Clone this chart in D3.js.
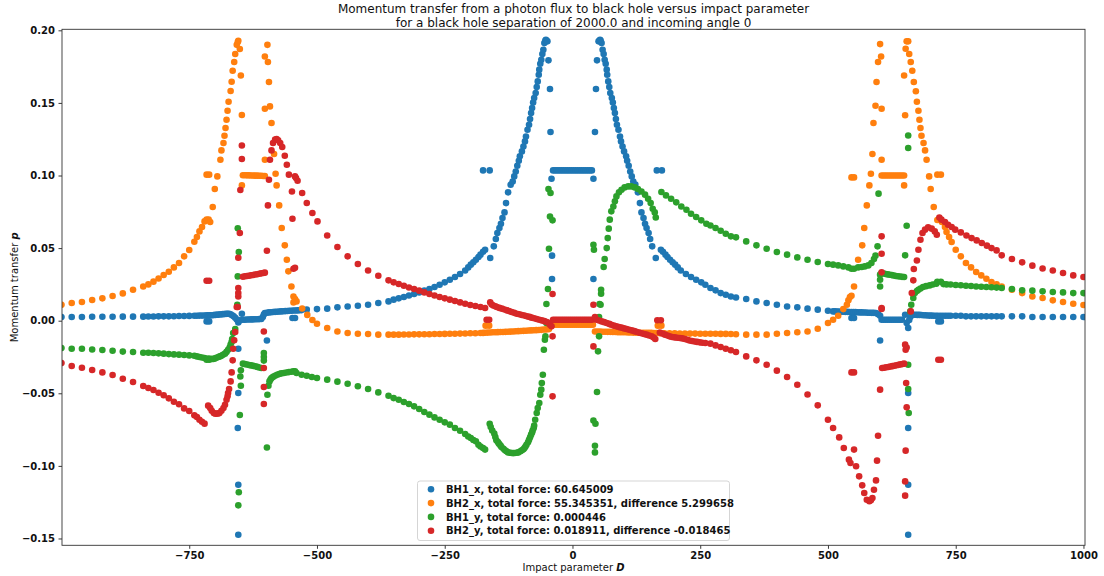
<!DOCTYPE html>
<html>
<head>
<meta charset="utf-8">
<script src="https://cdn.jsdelivr.net/npm/d3@7"></script>
<style>
  body { margin: 0; background: #fff; }
  svg { display: block; font-family: "DejaVu Sans", sans-serif; }
</style>
</head>
<body>
<svg id="chart" width="1104" height="576"></svg>
<script>
// Title, axis ticks and legend text
const titleLines = [
  "Momentum transfer from a photon flux to black hole versus impact parameter",
  "for a black hole separation of 2000.0 and incoming angle 0"
];
const xTicks = [-750, -500, -250, 0, 250, 500, 750, 1000];
const yTicks = [-0.15, -0.10, -0.05, 0.00, 0.05, 0.10, 0.15, 0.20];
const seriesLabels = [
  "BH1_x, total force: 60.645009",
  "BH2_x, total force: 55.345351, difference 5.299658",
  "BH1_y, total force: 0.000446",
  "BH2_y, total force: 0.018911, difference -0.018465"
];
const seriesColors = ["#1f77b4", "#ff7f0e", "#2ca02c", "#d62728"];

// Momentum transfer samples: [impact parameter D, momentum transfer p]
const bh1x = [
  [-1000,.0025],[-980,.0025],[-960,.0025],[-940,.0027],[-920,.0027],[-900,.0027],[-880,.0028],[-860,.0028],[-840,.0028],
  [-830,.0029],[-820,.0029],[-810,.003],[-800,.003],[-790,.003],[-780,.0031],[-770,.0032],[-760,.0032],[-750,.0033],[-740,.0034],
  [-735,.0034],[-730,.0035],[-725,.0035],[-720,.0036],[-717,.0036],[-714,.0037],[-716,-.0005],[-711,-.0005],[-711,.0037],
  [-708,.0038],[-705,.0038],[-702,.0039],[-699,.004],[-696,.0041],[-693,.0042],[-690,.0043],[-687,.0044],[-684,.0045],
  [-681,.0046],[-678,.0047],[-675,.0048],[-672,.0047],[-669,.0044],[-666,.0038],[-663,.003],[-660,.002],[-657,.0008],
  [-654,-.0012],[-651,.0002],[-654,-.0193],[-654,-.0498],[-655,-.0739],[-654,-.113],[-654,-.1474],[-647,.0048],
  [-645,.0007],[-641,.0007],[-637,.0008],[-633,.0008],[-629,.0009],[-625,.0009],[-621,.001],[-617,.001],[-613,.0011],[-609,.0012],
  [-606,.0025],[-604,.0043],[-602,.0053],[-598,-.0136],[-598,.0055],[-594,.0057],[-590,.0058],[-586,.006],[-582,.0061],[-578,.0062],
  [-574,.0063],[-570,.0064],[-566,.0065],[-562,.0066],[-558,.0067],[-554,.0068],[-550,.0069],[-546,.007],[-542,.007],
  [-538,.0071],[-534,.0072],[-530,.0073],[-548,.0019],[-543,.0019],
  [-520,.0076],[-500,.008],[-480,.0083],[-460,.0092],[-440,.0098],[-420,.0103],[-400,.011],[-380,.0122],[-360,.0133],
  [-350,.0145],[-340,.0154],[-330,.0163],[-320,.0174],[-310,.0184],[-300,.0195],[-290,.0207],[-280,.0218],[-270,.0232],
  [-260,.0248],[-250,.0264],[-240,.0282],[-230,.0301],[-220,.0322],[-210,.0346],[-204,.0367],[-199,.0386],[-194,.0402],
  [-189,.042],[-184,.0439],[-180,.0455],[-175,.0475],[-171,.0489],[-175,.1035],[-162,.1035],[-161,.0432],
  [-154,.0512],[-150,.0563],[-147,.0604],[-143,.0638],[-140,.0668],[-137,.0707],[-133,.0746],[-130,.081],[-126,.0884],
  [-121,.0937],[-117,.0959],[-114,.0994],[-111,.1028],[-108,.1067],[-105,.1102],[-103,.1132],[-99,.1166],[-96,.12],
  [-93,.1235],[-91,.1269],[-88,.1315],[-85,.135],[-83,.1389],[-81,.143],[-79,.1465],[-77,.1503],[-75,.1534],[-72,.1568],
  [-70,.161],[-68,.1648],[-66,.1694],[-65,.1729],[-63,.177],[-61,.1797],[-59,.1837],[-57,.1866],[-55,.1912],[-53,.193],
  [-52,.1935],[-51,.193],[-49,.1924],
  [-47,.1793],[-44,.1596],[-43,.13],[-41,.0978],[-40,.0448],[-40,.0287],
  [-38,.1035],[-34,.1035],[-30,.1035],[-26,.1035],[-22,.1035],[-18,.1035],[-14,.1035],[-10,.1035],[-6,.1035],[-2,.1035],
  [2,.1035],[6,.1035],[10,.1035],[14,.1035],[18,.1035],[22,.1035],[26,.1035],[30,.1035],[34,.1035],[38,.1035],
  [41,.0287],[41,.0978],[44,.13],[46,.1596],[48,.1793],
  [51,.1924],[53,.193],[54,.1935],[55,.193],[57,.1912],[59,.1866],[61,.1837],[63,.1797],[65,.177],[67,.1729],[68,.1694],
  [70,.1648],[72,.161],[74,.1568],[77,.1534],[79,.1503],[81,.1465],[83,.143],[85,.1389],[87,.135],[90,.1315],[93,.1269],
  [95,.1235],[98,.12],[101,.1166],[105,.1132],[107,.1102],[110,.1067],[113,.1028],[116,.0994],[119,.0959],[123,.0937],
  [128,.0884],[132,.081],[135,.0746],[139,.0707],[142,.0668],[145,.0638],[149,.0604],[152,.0563],[156,.0512],[163,.0432],
  [165,.1035],[175,.1035],[173,.0489],[177,.0475],[182,.0455],[186,.0439],[191,.042],[196,.0402],[201,.0386],[206,.0367],
  [212,.0346],[222,.0322],[232,.0301],[242,.0282],[252,.0264],[260,.0248],[270,.0225],[280,.0209],[290,.019],[300,.0179],
  [310,.0167],[320,.016],[340,.0149],[360,.0133],[380,.0122],[400,.011],[420,.0098],[440,.0092],[460,.0083],[480,.0076],
  [500,.0069],[510,.0064],[546,.0019],[551,.0019],
  [514,.0064],[518,.0063],[522,.0063],[526,.0062],[530,.0062],[534,.0061],[538,.0061],[542,.006],[546,.006],[550,.0059],
  [554,.0059],[558,.0058],[562,.0057],[566,.0057],[570,.0056],[574,.0056],[578,.0055],[582,.0055],[586,.0054],[590,.0054],
  [594,.0053],[598,.0045],[602,.0034],[602,-.0136],[605,.0007],
  [609,.0007],[613,.0007],[617,.0007],[621,.0007],[625,.0007],[629,.0007],[633,.0007],[637,.0007],[641,.0007],[645,.0007],
  [651,.0041],[654,-.0016],[657,-.005],[657,-.0498],[657,-.0739],[657,-.113],[657,-.1474],
  [659,.0005],[661,.0025],[664,.0038],[667,.0041],[671,.0041],[675,.004],[679,.004],[683,.0039],[687,.0038],[691,.0037],
  [695,.0036],[699,.0035],[703,.0035],[707,.0034],[711,.0034],[716,-.0005],[721,-.0005],[715,.0034],[720,.0034],
  [725,.0034],[730,.0034],[735,.0034],[740,.0034],[750,.0034],[760,.0034],[770,.003],[780,.003],[790,.003],[800,.003],
  [810,.003],[820,.003],[830,.003],[840,.003],[860,.003],[880,.003],[900,.0025],[920,.0025],[940,.0025],[960,.0025],
  [980,.0025],[1000,.0025]
];

const bh2x = [
  [-1000,.011],[-980,.0122],[-960,.0129],[-940,.0143],[-920,.0154],[-900,.017],[-880,.0188],[-860,.0213],[-840,.0236],
  [-830,.025],[-820,.0269],[-810,.0291],[-800,.0315],[-790,.0337],[-780,.0367],[-770,.0397],[-760,.0443],[-750,.0487],[-740,.0544],
  [-735,.0576],[-730,.0615],[-725,.0645],[-720,.0684],[-716,.0696],[-712,.0696],[-709,.068],[-716,.1006],[-711,.1006],
  [-704,.0783],[-700,.0907],[-695,.0994],[-689,.1109],[-687,.1173],[-683,.1224],[-681,.1274],[-679,.1327],[-677,.1384],
  [-675,.1446],[-673,.1508],[-669,.1582],[-667,.1646],[-665,.1722],[-662,.1782],[-660,.1837],[-657,.19],[-655,.1919],
  [-654,.1928],[-651,.1871],[-649,.1689],[-647,.1417],[-647,.0932],
  [-645,.1002],[-641,.1002],[-637,.1001],[-633,.1001],[-629,.1],[-625,.1],[-621,.0999],[-617,.0999],[-613,.0998],
  [-609,.0998],[-605,.0997],[-602,.0997],
  [-602,.1109],[-602,.182],[-602,.146],[-597,.19],[-596,.1782],[-594,.1644],[-592,.1476],[-589,.1362],[-584,.1148],
  [-581,.1012],[-579,.0932],[-574,.0794],[-569,.0638],[-563,.0519],[-559,.042],[-556,.034],[-550,.0236],[-546,.0167],
  [-543,.0149],[-546,.0126],[-540,.0133],[-529,.0084],[-519,.004],[-509,.0005],[-500,-.0021],[-480,-.005],[-460,-.0074],
  [-440,-.0085],[-420,-.009],[-400,-.0092],[-380,-.0096],[-360,-.0096],[-350,-.0096],[-340,-.0096],[-330,-.0095],
  [-320,-.0095],[-310,-.0094],[-300,-.0094],[-290,-.0093],[-280,-.0093],[-270,-.0092],[-260,-.0092],[-250,-.0091],
  [-240,-.009],[-230,-.009],[-220,-.0089],[-210,-.0088],[-200,-.0087],[-190,-.0086],[-180,-.0085],[-175,-.0084],
  [-170,-.0034],[-163,-.0034],
  [-171,-.0083],[-166,-.0082],[-161,-.0081],[-156,-.008],[-151,-.008],[-146,-.0079],[-141,-.0078],[-136,-.0078],
  [-131,-.0077],[-126,-.0076],[-121,-.0075],[-116,-.0074],[-111,-.0073],[-106,-.0072],[-101,-.0071],[-96,-.007],
  [-91,-.0069],[-86,-.0068],[-81,-.0067],[-76,-.0066],[-71,-.0065],[-66,-.0064],[-61,-.0063],[-56,-.0061],[-51,-.006],
  [-46,-.0058],
  [-40,-.0028],[-36,-.0028],[-32,-.0028],[-28,-.0028],[-24,-.0028],[-20,-.0028],[-16,-.0028],[-12,-.0028],[-8,-.0028],
  [-4,-.0028],[0,-.0028],[4,-.0028],[8,-.0028],[12,-.0028],[16,-.0028],[20,-.0028],[24,-.0028],[28,-.0028],[32,-.0028],
  [36,-.0028],[40,-.0028],
  [44,-.0074],[49,-.0075],[54,-.0075],[59,-.0076],[64,-.0076],[69,-.0077],[74,-.0077],[79,-.0078],[84,-.0078],
  [89,-.0079],[94,-.0079],[99,-.008],[104,-.008],[109,-.0081],[114,-.0081],[119,-.0082],[124,-.0082],[129,-.0083],
  [134,-.0083],[139,-.0083],[144,-.0084],[149,-.0084],[154,-.0084],[159,-.0085],[164,-.0085],
  [167,-.0034],[174,-.0034],
  [171,-.0086],[180,-.0086],[190,-.0087],[200,-.0087],[210,-.0088],[220,-.0088],[230,-.0089],[240,-.0089],[250,-.009],
  [260,-.009],[270,-.009],[280,-.009],[290,-.0091],[300,-.0091],[310,-.0092],[320,-.0093],[340,-.0096],[360,-.0096],
  [380,-.0096],[400,-.009],[420,-.0085],[440,-.008],[460,-.0074],[480,-.0055],[500,-.0016],[510,.0007],[520,.0034],
  [530,.008],[537,.011],[540,.014],[543,.0163],[546,.0172],[551,.0236],[546,.0987],[551,.0987],[559,.042],[567,.0519],
  [571,.0638],[576,.0794],[581,.0932],[584,.1012],[587,.1148],[589,.1362],[593,.148],[595,.1644],[598,.1782],[602,.1905],
  [604,.182],[605,.146],[605,.1109],
  [605,.1],[609,.1],[613,.1],[617,.1],[621,.1],[625,.1],[629,.1],[633,.1],[637,.1],[641,.1],[645,.1],[649,.1],
  [649,.0932],[651,.1415],[649,.1689],[652,.1873],[654,.1924],[657,.1924],[659,.1837],[662,.1782],[665,.1722],[668,.1644],
  [672,.158],[674,.1508],[677,.1446],[679,.1384],[681,.1327],[683,.1274],[687,.1224],[690,.1173],[693,.1109],[698,.0994],
  [701,.0907],[707,.0783],[714,.0694],[719,.0694],[714,.1006],[721,.1006],[723,.068],[729,.0645],[732,.0611],[737,.0576],
  [742,.0542],[750,.0489],[760,.0443],[770,.0397],[780,.0367],[790,.0335],[800,.0312],[810,.0289],[820,.0266],[830,.025],
  [840,.0236],[860,.0213],[880,.019],[900,.0167],[920,.0156],[940,.014],[960,.0129],[980,.0117],[1000,.0108]
];

const bh1y = [
  [-1000,-.0188],[-980,-.0193],[-960,-.0193],[-940,-.0198],[-920,-.0202],[-900,-.0207],[-880,-.0213],[-860,-.0216],[-840,-.0221],
  [-830,-.0221],[-820,-.0223],[-810,-.0225],[-800,-.0227],[-790,-.023],[-780,-.0232],[-770,-.0234],[-760,-.0236],[-750,-.0239],
  [-740,-.0241],[-735,-.0246],[-730,-.025],[-725,-.0253],[-720,-.0257],[-716,-.0269],[-711,-.0269],
  [-713,-.026],[-709,-.0263],[-706,-.0264],[-703,-.0263],[-700,-.026],[-697,-.0256],[-693,-.025],[-690,-.0246],[-687,-.0241],
  [-684,-.0235],[-680,-.0227],[-677,-.0215],[-674,-.02],[-671,-.0185],[-669,-.0165],[-667,-.0146],[-666,-.0126],
  [-664,-.0085],[-660,-.0057],
  [-656,.011],[-655,.0305],[-653,.0473],[-655,.0636],[-649,-.0342],[-650,-.0384],[-649,-.0448],[-651,-.065],
  [-653,-.1182],[-654,-.1272],
  [-645,-.0296],[-641,-.0299],[-637,-.0302],[-633,-.0305],[-629,-.0308],[-625,-.0311],[-621,-.0314],[-617,-.0318],
  [-613,-.0322],[-609,-.0326],[-604,-.0275],[-604,-.025],[-604,-.0223],
  [-595,-.0448],[-597,-.051],[-598,-.0873],
  [-593,-.0418],[-591,-.0405],[-589,-.0395],[-586,-.0387],[-582,-.0379],[-578,-.0372],[-574,-.0367],[-570,-.0363],
  [-565,-.036],[-560,-.0357],[-555,-.0354],[-550,-.0352],[-546,-.0349],[-543,-.0349],[-540,-.036],[-530,-.0372],
  [-520,-.0379],[-510,-.0388],[-500,-.0395],[-480,-.0406],[-460,-.042],[-440,-.0434],[-420,-.0452],[-400,-.047],
  [-380,-.0494],[-360,-.0517],[-350,-.0533],[-340,-.0544],[-330,-.056],[-320,-.0574],[-310,-.059],[-300,-.0608],
  [-290,-.0629],[-280,-.0647],[-270,-.0666],[-260,-.0682],[-250,-.07],[-240,-.0716],[-230,-.0739],[-220,-.0758],
  [-210,-.078],[-204,-.0798],[-199,-.0808],[-194,-.0822],[-189,-.0831],[-184,-.0854],[-180,-.0866],[-175,-.0877],
  [-171,-.0888],
  [-162,-.071],[-160,-.0732],[-157,-.0756],[-153,-.0778],[-151,-.0801],[-149,-.0824],[-146,-.0836],[-144,-.0847],
  [-141,-.0859],[-139,-.087],[-135,-.0882],[-132,-.0893],[-129,-.09],[-126,-.0907],[-122,-.091],[-119,-.0911],
  [-116,-.0912],[-113,-.0911],[-109,-.091],[-106,-.0907],[-102,-.09],[-99,-.0893],[-96,-.0885],[-94,-.0877],
  [-92,-.0866],[-90,-.0854],[-87,-.0838],[-85,-.082],[-83,-.0803],[-81,-.0785],[-79,-.077],[-78,-.0756],[-76,-.074],
  [-75,-.0723],[-73,-.0682],[-70,-.0636],[-68,-.0601],[-65,-.0567],[-63,-.051],[-61,-.0475],[-60,-.0429],[-58,-.0372],
  [-56,-.02],[-54,-.0131],[-53,-.0108],[-51,-.0016],
  [-51,.0115],[-48,.0218],[-46,.0496],[-44,.0718],[-47,.0907],[-43,.0879],[-39,.0691],
  [41,.0523],[42,.0489],[41,-.0687],[45,-.071],[44,-.0861],[44,-.0907],[48,-.0491],[50,-.0211],[52,-.0108],
  [52,.0025],[53,.0115],[55,.011],[56,.0186],[56,.0213],
  [61,.037],[63,.0425],[67,.05],[69,.0569],[71,.0634],[73,.0696],[76,.0753],[80,.0787],[83,.0822],[86,.0856],[91,.0884],
  [96,.0902],[102,.0918],[109,.0925],[115,.0925],[122,.0918],[128,.0907],[135,.089],[142,.0868],[148,.084],[153,.081],
  [157,.0771],[161,.0746],[163,.0711],
  [174,.0886],[183,.0863],[193,.084],[203,.0815],[213,.0787],[223,.0764],[232,.0737],[242,.0714],[252,.0691],[262,.0668],
  [270,.0656],[280,.0638],[290,.062],[300,.0599],[310,.0581],[320,.0574],[340,.0546],[360,.0519],[380,.0496],[400,.0473],
  [420,.0455],[440,.0436],[460,.042],[480,.0404],[500,.039],[510,.0386],[520,.0381],[530,.0374],[540,.0367],
  [546,.0358],[551,.0358],[559,.0367],[566,.037],[572,.0374],[579,.0381],[585,.0397],[590,.0425],[593,.0448],
  [597,.0512],[599,.0875],[602,.0317],[602,.0282],[602,.0236],
  [605,.0328],[609,.0325],[613,.0322],[617,.0319],[621,.0316],[625,.0314],[629,.0311],[633,.0308],[637,.0306],
  [641,.0304],[645,.0302],[649,.0301],
  [651,.045],[654,.0654],[657,.1189],[657,.1276],[657,-.0303],[657,-.047],[658,-.0636],
  [661,.0064],[663,.011],[667,.0156],[670,.019],[674,.0205],[677,.0213],[681,.0222],[686,.0232],[692,.0238],[699,.0243],
  [705,.0249],[712,.0255],[714,.0268],[721,.0268],[726,.0252],[732,.025],[740,.0249],[750,.0246],[760,.0244],[770,.0241],
  [780,.0239],[790,.0236],[800,.0234],[810,.0232],[820,.023],[830,.0228],[840,.0225],[860,.0218],[880,.0209],[900,.0207],
  [920,.0202],[940,.0198],[960,.0195],[980,.019],[1000,.019]
];

const bh2y = [
  [-1000,-.0291],[-980,-.0312],[-960,-.0324],[-940,-.034],[-920,-.0356],[-900,-.0374],[-880,-.04],[-860,-.0422],[-840,-.045],
  [-830,-.0464],[-820,-.0477],[-810,-.0496],[-800,-.0514],[-790,-.0535],[-780,-.0558],[-770,-.0576],[-760,-.0604],
  [-750,-.0622],[-740,-.0652],[-735,-.0663],[-730,-.0682],[-725,-.0696],[-720,-.0709],[-716,.0275],[-711,.0275],
  [-713,-.0585],[-709,-.0601],[-706,-.062],[-702,-.0636],[-699,-.0641],[-696,-.064],[-693,-.0639],[-691,-.0636],
  [-687,-.062],[-683,-.0601],[-680,-.0579],[-677,-.0544],[-675,-.0521],[-674,-.0498],[-672,-.047],[-669,-.0418],
  [-667,-.0356],[-665,-.0273],[-664,-.0193],[-662,-.0135],[-660,-.0078],[-657,.0094],
  [-655,.0094],[-654,.0167],[-654,.0191],[-654,.0225],[-654,.0434],[-651,.0604],[-650,.09],[-647,.1114],[-647,.1207],
  [-645,.0303],[-641,.0306],[-637,.0308],[-633,.031],[-629,.0313],[-625,.0315],[-621,.0318],[-617,.032],[-613,.0323],
  [-609,.0326],[-605,.0329],[-602,.0331],
  [-604,-.0074],[-604,-.0326],[-604,-.0457],[-604,-.0574],
  [-598,.0482],[-596,.0794],[-594,.0971],[-592,.1109],[-589,.1173],[-586,.1224],[-582,.1247],[-579,.1251],[-576,.1242],
  [-572,.1224],[-568,.1196],[-563,.1136],[-559,.1074],[-555,.1006],[-549,.089],[-548,.0702],[-546,.0358],[-543,.0365],
  [-543,.0994],[-541,.0983],[-538,.0964],[-529,.0879],[-520,.0811],[-509,.0742],[-499,.0684],[-480,.0587],[-460,.0508],
  [-440,.0443],[-420,.039],[-400,.0346],[-380,.031],[-360,.0278],[-350,.0264],[-340,.0253],[-330,.0241],[-320,.0229],
  [-310,.0218],[-300,.0207],[-290,.0195],[-280,.0184],[-270,.0174],[-260,.0163],[-250,.0154],[-240,.0145],[-230,.0136],
  [-220,.0126],[-210,.0117],[-200,.0108],[-190,.0101],[-180,.0094],[-171,.0087],[-168,.0007],[-163,.0007],
  [-161,.0126],[-158,.0112],[-155,.0105],[-151,.0099],[-148,.0094],[-143,.0088],[-138,.0083],[-133,.0077],[-128,.0071],
  [-124,.0066],[-119,.006],[-114,.0054],[-109,.0048],[-104,.0044],[-99,.0039],[-94,.0035],[-89,.003],[-84,.0026],
  [-80,.0021],[-75,.0017],[-70,.0012],[-65,.0007],[-60,.0002],[-55,-.0003],[-50,-.0009],[-46,-.0018],[-44,-.0028],
  [-41,-.0039],[-39,-.0108],[-39,.0184],[-39,-.0521],
  [-38,.0007],[-34,.0007],[-30,.0007],[-26,.0007],[-22,.0007],[-18,.0007],[-14,.0007],[-10,.0007],[-6,.0007],[-2,.0007],
  [2,.0007],[6,.0007],[10,.0007],[14,.0007],[18,.0007],[22,.0007],[26,.0007],[30,.0007],[34,.0007],[38,.0007],
  [41,.011],[41,-.0177],
  [44,.0025],[47,.0007],[52,.0001],[57,-.0005],[62,-.001],[67,-.0016],[72,-.0022],[76,-.0028],[81,-.0034],[86,-.0039],
  [91,-.0044],[96,-.0048],[101,-.0053],[106,-.0057],[111,-.0062],[116,-.0067],[121,-.0072],[125,-.0076],[130,-.0082],
  [135,-.0087],[140,-.0092],[145,-.0096],[150,-.0102],[155,-.0108],[159,-.0116],[162,-.0126],[166,.0003],[173,.0003],
  [171,-.0081],[176,-.0089],[181,-.0096],[186,-.0102],[190,-.0108],[195,-.0112],[200,-.0115],[205,-.0117],[210,-.0119],
  [215,-.0122],[220,-.0126],[225,-.0131],[229,-.0136],[234,-.014],[239,-.0143],[244,-.0146],[249,-.0149],[254,-.0152],
  [260,-.0154],[270,-.0158],[280,-.017],[290,-.0181],[300,-.0193],[310,-.0204],[320,-.0216],[340,-.0246],[360,-.0273],
  [380,-.0303],[400,-.0344],[420,-.0388],[440,-.0441],[460,-.0508],[480,-.0583],[500,-.0682],[510,-.0739],[522,-.0804],
  [531,-.0877],[541,-.0957],[544,-.098],[546,-.0356],[551,-.0356],[551,-.0888],[555,-.1003],[561,-.1072],[567,-.1134],
  [571,-.1187],[576,-.1233],[581,-.1244],[584,-.1237],[587,-.1221],[590,-.1164],[594,-.11],[596,-.0964],[598,-.0792],
  [602,-.0475],[605,.0087],[605,.0581],[605,.0461],[605,.0333],[605,.0081],
  [606,-.0326],[610,-.0324],[614,-.0321],[618,-.0319],[622,-.0316],[626,-.0313],[630,-.031],[634,-.0307],[638,-.0304],
  [642,-.0301],[646,-.0298],[649,-.0296],
  [651,-.0165],[652,-.02],[654,-.0185],[653,-.0429],[654,-.0597],[652,-.0895],[651,-.1107],[651,-.1205],
  [662,.0064],[664,.019],[667,.0278],[668,.0356],[674,.0415],[677,.0489],[681,.0558],[685,.0604],[690,.0627],[696,.0643],
  [703,.0634],[709,.0615],[713,.0592],[716,-.0269],[721,-.0269],[718,.0711],[722,.0696],[729,.068],[735,.0661],[742,.0645],
  [749,.0627],[760,.0608],[771,.0587],[781,.0569],[791,.0553],[801,.0535],[811,.0517],[820,.05],[830,.0484],[840,.045],
  [860,.0425],[880,.0402],[900,.0379],[920,.036],[940,.0346],[960,.0328],[980,.0312],[1000,.0301]
];

const seriesData = [bh1x, bh2x, bh1y, bh2y];

// Layout
const W = 1104, H = 576;
const plot = { left: 62, right: 1085, top: 29.3, bottom: 545.3 };

const svg = d3.select("#chart");
const x = d3.scaleLinear().domain([-999, 1003]).range([plot.left, plot.right]);
const y = d3.scaleLinear().domain([-0.1547, 0.2007]).range([plot.bottom, plot.top]);

svg.append("rect").attr("width", W).attr("height", H).attr("fill", "#fff");

svg.append("defs").append("clipPath").attr("id", "plotClip")
  .append("rect")
  .attr("x", plot.left).attr("y", plot.top)
  .attr("width", plot.right - plot.left).attr("height", plot.bottom - plot.top);

// Scatter points, one layer per series (later series drawn on top)
const points = svg.append("g").attr("clip-path", "url(#plotClip)");
seriesData.forEach((data, i) => {
  points.append("g")
    .selectAll("circle")
    .data(data)
    .join("circle")
    .attr("cx", d => x(d[0]))
    .attr("cy", d => y(d[1]))
    .attr("r", 3.3)
    .attr("fill", seriesColors[i]);
});

// Axes
const xAxis = svg.append("g")
  .attr("transform", `translate(0,${plot.bottom})`)
  .call(d3.axisBottom(x).tickValues(xTicks).tickSize(3.5).tickPadding(3.5).tickFormat(d3.format("d")));
const yAxis = svg.append("g")
  .attr("transform", `translate(${plot.left},0)`)
  .call(d3.axisLeft(y).tickValues(yTicks).tickSize(3.5).tickPadding(3.5).tickFormat(d3.format(".2f")));

[xAxis, yAxis].forEach(g => {
  g.select(".domain").remove();
  g.selectAll(".tick line").attr("stroke", "#222").attr("stroke-width", 0.9);
  g.selectAll(".tick text")
    .attr("fill", "#111")
    .style("font-family", "'DejaVu Sans', sans-serif")
    .style("font-size", "10px")
    .style("font-weight", "bold");
});

// Frame
svg.append("rect")
  .attr("x", plot.left).attr("y", plot.top)
  .attr("width", plot.right - plot.left).attr("height", plot.bottom - plot.top)
  .attr("fill", "none").attr("stroke", "#333").attr("stroke-width", 0.9);

// Title
const title = svg.append("text")
  .attr("text-anchor", "middle")
  .style("font-size", "12px")
  .attr("fill", "#111");
titleLines.forEach((line, i) => {
  title.append("tspan")
    .attr("x", (plot.left + plot.right) / 2)
    .attr("y", 13 + i * 13.8)
    .text(line);
});

// Axis labels
const xLabel = svg.append("text")
  .attr("x", (plot.left + plot.right) / 2)
  .attr("y", 571)
  .attr("text-anchor", "middle")
  .style("font-size", "10px")
  .attr("fill", "#111");
xLabel.append("tspan").text("Impact parameter ");
xLabel.append("tspan").style("font-weight", "bold").style("font-style", "italic").text("D");

const yLabel = svg.append("text")
  .attr("transform", `translate(18,${(plot.top + plot.bottom) / 2}) rotate(-90)`)
  .attr("text-anchor", "middle")
  .style("font-size", "10px")
  .attr("fill", "#111");
yLabel.append("tspan").text("Momentum transfer ");
yLabel.append("tspan").style("font-weight", "bold").style("font-style", "italic").text("p");

// Legend
const legend = svg.append("g");
legend.append("rect")
  .attr("x", 417.5).attr("y", 481).attr("width", 312).attr("height", 59.5)
  .attr("rx", 2.5)
  .attr("fill", "#fff").attr("fill-opacity", 0.8)
  .attr("stroke", "#d0d0d0").attr("stroke-width", 0.9);
seriesLabels.forEach((label, i) => {
  const cy = 489.3 + i * 13.8;
  legend.append("circle").attr("cx", 431).attr("cy", cy).attr("r", 3.3).attr("fill", seriesColors[i]);
  legend.append("text")
    .attr("x", 446).attr("y", cy + 3.6)
    .style("font-size", "10px").style("font-weight", "bold")
    .attr("fill", "#111")
    .text(label);
});
</script>
</body>
</html>
